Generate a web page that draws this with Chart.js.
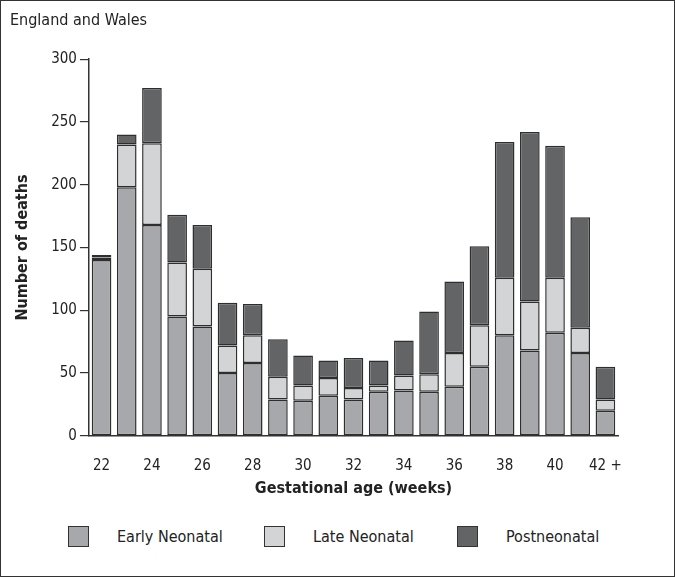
<!DOCTYPE html>
<html>
<head>
<meta charset="utf-8">
<script src="https://cdn.jsdelivr.net/npm/chart.js@4"></script>
<style>
  body { margin: 0; background: #fff; }
  #frame { position: relative; width: 675px; height: 577px; box-sizing: border-box; border: 1px solid #333; }
  #wrap { position: absolute; left: 0; top: 0; width: 673px; height: 501px; }
  #legend { position: absolute; left: 0; top: 525px; width: 673px; height: 26px;
    font-family: 'Liberation Sans Narrow', 'DejaVu Sans Condensed', sans-serif; font-size: 16px; color: #222; }
  .item { position: absolute; top: 0; display: flex; align-items: center; }
  .box { width: 19px; height: 19px; border: 1.5px solid #333; margin-right: 28px; }
</style>
</head>
<body>
<div id="frame">
  <div id="wrap"><canvas id="chartDeaths"></canvas></div>
  <div id="legend"></div>
</div>
<script>
const weeks = ["22", "23", "24", "25", "26", "27", "28", "29", "30", "31", "32", "33", "34", "35", "36", "37", "38", "39", "40", "41", "42 +"];
const earlyNeonatal = [140, 198, 168, 95, 87, 50, 58, 29, 28, 32, 29, 35, 36, 35, 39, 55, 80, 68, 82, 66, 20];
const lateNeonatal = [2, 34, 65, 43, 46, 22, 22, 18, 12, 14, 9, 5, 12, 14, 27, 33, 46, 39, 44, 20, 9];
const postneonatal = [2, 8, 44, 38, 35, 34, 25, 30, 24, 14, 24, 20, 28, 50, 57, 63, 108, 135, 105, 88, 26];
const yTicks = [0, 50, 100, 150, 200, 250, 300];

const fontFam = "'Liberation Sans Narrow', 'DejaVu Sans Condensed', sans-serif";

const datasets = [
  { label: "Early Neonatal", data: earlyNeonatal, backgroundColor: "#a7a8ab" },
  { label: "Late Neonatal", data: lateNeonatal, backgroundColor: "#d3d4d6" },
  { label: "Postneonatal", data: postneonatal, backgroundColor: "#636466" },
].map((d) => ({
  ...d,
  borderColor: "#2e2e2e",
  borderWidth: 1.5,
  borderSkipped: false,
  barPercentage: 0.78,
  categoryPercentage: 1,
}));

new Chart(document.querySelector("#chartDeaths"), {
  type: "bar",
  data: { labels: weeks, datasets: datasets },
  options: {
    responsive: true,
    maintainAspectRatio: false,
    animation: false,
    layout: { padding: { left: 9, right: 56, top: 0, bottom: 4 } },
    scales: {
      x: {
        stacked: true,
        // invisible tick marks just to push the labels down
        grid: { display: true, drawOnChartArea: false, drawTicks: true, tickLength: 18, tickColor: "rgba(0,0,0,0)" },
        border: { display: true, color: "#333", width: 1.5 },
        ticks: {
          autoSkip: false,
          maxRotation: 0,
          padding: 3,
          color: "#222",
          font: { family: fontFam, size: 15 },
          callback: function (val, i) { return i % 2 === 0 ? weeks[i] : null; },
        },
        title: { display: true, text: "Gestational age (weeks)", color: "#222", padding: { top: 1, bottom: 0 }, font: { family: fontFam, size: 16, weight: "bold" } },
      },
      y: {
        stacked: true,
        min: 0,
        max: 300,
        afterBuildTicks: (axis) => { axis.ticks = yTicks.map((v) => ({ value: v })); },
        grid: { drawOnChartArea: false, drawTicks: true, tickLength: 9, color: "#333", lineWidth: 1.2 },
        border: { display: true, color: "#333", width: 1.5 },
        ticks: { padding: 3, color: "#222", font: { family: fontFam, size: 15 } },
        title: { display: true, text: "Number of deaths", color: "#222", padding: { top: 3, bottom: 16 }, font: { family: fontFam, size: 16, weight: "bold" } },
      },
    },
    plugins: {
      legend: { display: false },
      tooltip: { enabled: false },
      title: {
        display: true,
        text: "England and Wales",
        align: "start",
        color: "#222",
        padding: { top: 10, bottom: 29 },
        font: { family: fontFam, size: 16, weight: "normal" },
      },
    },
  },
});

// legend drawn as html from the dataset list
const legendX = [67, 263, 456];
const legendEl = document.querySelector("#legend");
datasets.forEach((d, i) => {
  const item = document.createElement("div");
  item.className = "item";
  item.style.left = legendX[i] + "px";
  item.innerHTML = '<div class="box" style="background:' + d.backgroundColor + '"></div><span>' + d.label + "</span>";
  legendEl.appendChild(item);
});
</script>
</body>
</html>
